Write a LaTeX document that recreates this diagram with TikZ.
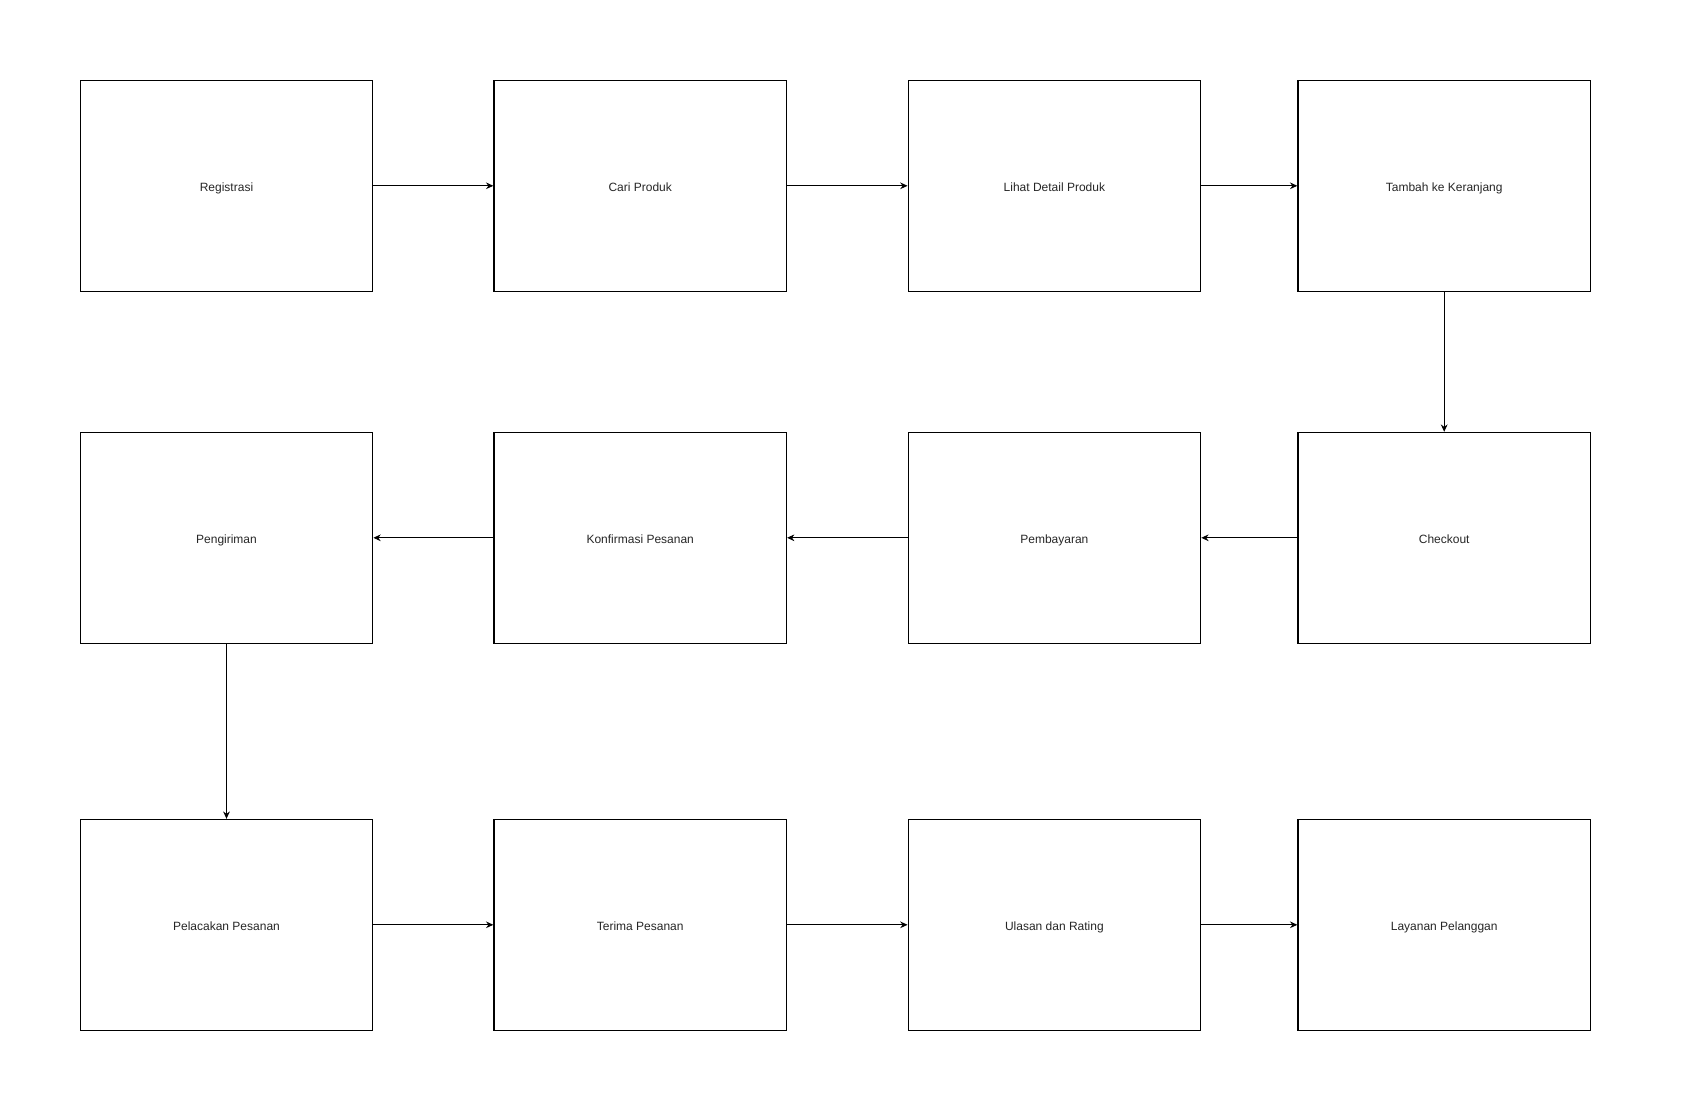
\documentclass[tikz,border=0pt]{standalone}
\usepackage{fontspec}
\setmainfont{Liberation Sans}
\usetikzlibrary{arrows.meta}

\begin{document}
\begin{tikzpicture}[x=0.75pt,y=-0.75pt,
    stepbox/.style={draw,line width=0.9pt,minimum width=219.4pt,minimum height=158.1pt,
      inner sep=0pt,text height=7.8pt,text depth=0pt,text=black!85,
      font=\fontsize{9}{11}\selectfont},
    flow/.style={-{Stealth[length=5.5pt,width=5pt]},line width=0.75pt}]
  \useasboundingbox (0,0) rectangle (1700,1100);
  % row 1
  \node[stepbox] (reg)    at (226.5,185.8)  {Registrasi};
  \node[stepbox] (cari)   at (640.2,185.8)  {Cari Produk};
  \node[stepbox] (detail) at (1054.4,185.8) {Lihat Detail Produk};
  \node[stepbox] (tambah) at (1444.2,185.8) {Tambah ke Keranjang};
  % row 2
  \node[stepbox] (kirim)  at (226.5,537.8)  {Pengiriman};
  \node[stepbox] (konf)   at (640.2,537.8)  {Konfirmasi Pesanan};
  \node[stepbox] (bayar)  at (1054.4,537.8) {Pembayaran};
  \node[stepbox] (check)  at (1444.2,537.8) {Checkout};
  % row 3
  \node[stepbox] (lacak)  at (226.5,924.8)  {Pelacakan Pesanan};
  \node[stepbox] (terima) at (640.2,924.8)  {Terima Pesanan};
  \node[stepbox] (ulasan) at (1054.4,924.8) {Ulasan dan Rating};
  \node[stepbox] (layan)  at (1444.2,924.8) {Layanan Pelanggan};

  \draw[flow] (reg) -- (cari);
  \draw[flow] (cari) -- (detail);
  \draw[flow] (detail) -- (tambah);
  \draw[flow] (tambah) -- (check);
  \draw[flow] (check) -- (bayar);
  \draw[flow] (bayar) -- (konf);
  \draw[flow] (konf) -- (kirim);
  \draw[flow] (kirim) -- (lacak);
  \draw[flow] (lacak) -- (terima);
  \draw[flow] (terima) -- (ulasan);
  \draw[flow] (ulasan) -- (layan);
\end{tikzpicture}
\end{document}
